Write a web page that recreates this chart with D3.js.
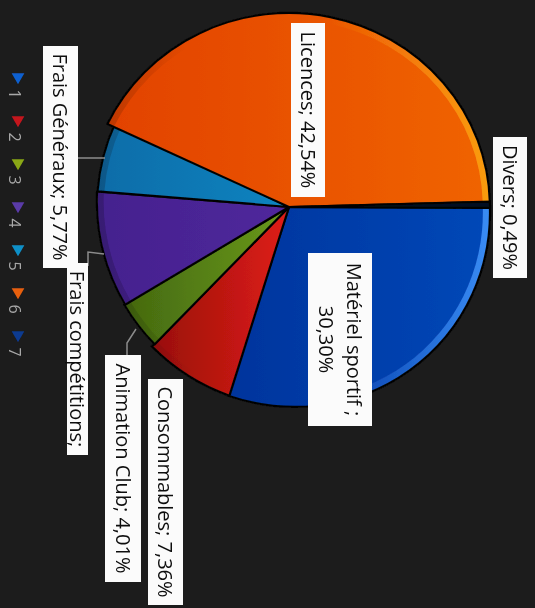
<!DOCTYPE html>
<html>
<head>
<meta charset="utf-8">
<script src="https://cdn.jsdelivr.net/npm/d3@7"></script>
<style>
  html, body { margin: 0; padding: 0; background: #1b1b1b; overflow: hidden; }
  svg { display: block; }
  text { font-family: "Open Sans", sans-serif; }
</style>
</head>
<body>
<div id="chart"></div>
<script>
// values, clockwise from the horizontal edge of the (rotated) pie
const categories = ["Matériel sportif", "Consommables", "Animation Club", "Frais compétitions", "Frais Généraux", "Licences", "Divers"];
const values = [30.30, 7.36, 4.01, 9.53, 5.77, 42.54, 0.49];
const legendKeys = ["1", "2", "3", "4", "5", "6", "7"];
const labelLines = [
    ["Matériel sportif ;", "30,30%"],
    ["Consommables; 7,36%"],
    ["Animation Club; 4,01%"],
    ["Frais compétitions;"],
    ["Frais Généraux; 5,77%"],
    ["Licences; 42,54%"],
    ["Divers; 0,49%"]
];

const width = 535;
const height = 608;
const cx = 289;
const cy = 207;
const radius = 197;

// [dark side, bright side, rim]
const colors = [
    ["#04349c", "#0648b8", "#3a8cf4"],
    ["#980f0c", "#e01e16", "#f8382a"],
    ["#44680f", "#6a9a1c", "#7cb024"],
    ["#44218e", "#50289c", "#5a30a8"],
    ["#0a6ca8", "#0c84c0", "#1090cc"],
    ["#e24200", "#f06404", "#fa9c10"],
    ["#040c20", "#040c20", "#040c20"]
];
const legendColors = ["#1060d0", "#c4141c", "#8aa816", "#5a3aa8", "#1090c8", "#e86010", "#0a3a90"];

// the photographed pie is not quite round: x stretch, y stretch, skew of each slice around the centre
const sliceWarp = [
    [1.02, 1.015, 0.03],
    [1, 1.015, 0.03],
    [0.98, 1, 0.03],
    [0.975, 1, 0.03],
    [0.975, 1, 0],
    [1.02, 0.985, 0],
    [1.02, 1, 0]
];

// label boxes, x/y/w/h
const labelBoxes = [
    [308, 253, 64, 173],
    [148, 379, 35, 226],
    [105, 355, 36, 227],
    [67, 263, 21, 192],
    [43, 46, 35, 222],
    [291, 23, 34, 174],
    [493, 137, 34, 141]
];
const leaders = [
    [[127, 355], [127, 343], [136, 329]],
    [[88, 266], [88, 252], [104, 254]],
    [[78, 158], [105, 158]]
];

const svg = d3.select("#chart")
    .append("svg")
    .attr("width", width)
    .attr("height", height)
    .attr("viewBox", `0 0 ${width} ${height}`);

const defs = svg.append("defs");

defs.append("filter")
    .attr("id", "soft")
    .append("feGaussianBlur")
    .attr("stdDeviation", 0.5);

colors.forEach((c, i) => {
    const g = defs.append("linearGradient")
        .attr("id", `slice-${i}`)
        .attr("x1", "0%").attr("x2", "100%")
        .attr("y1", "0%").attr("y2", "0%");
    g.append("stop").attr("offset", "0%").attr("stop-color", c[0]);
    g.append("stop").attr("offset", "100%").attr("stop-color", c[1]);

    const r = defs.append("linearGradient")
        .attr("id", `rim-${i}`)
        .attr("gradientUnits", "userSpaceOnUse")
        .attr("x1", -radius).attr("y1", 0)
        .attr("x2", radius).attr("y2", 0);
    r.append("stop").attr("offset", "0%").attr("stop-color", "#000").attr("stop-opacity", 0.2);
    r.append("stop").attr("offset", "25%").attr("stop-color", "#000").attr("stop-opacity", 0);
    r.append("stop").attr("offset", "60%").attr("stop-color", c[2]).attr("stop-opacity", 0);
    r.append("stop").attr("offset", "100%").attr("stop-color", c[2]).attr("stop-opacity", 1);
});

const chart = svg.append("g").attr("filter", "url(#soft)");

chart.append("rect")
    .attr("width", width)
    .attr("height", height)
    .attr("fill", "#1b1b1b");

// pie
const pie = d3.pie()
    .sort(null)
    .startAngle(Math.PI / 2 + 0.004)
    .endAngle(Math.PI * 2.5 + 0.004);

const arcs = pie(values);
const arc = d3.arc().innerRadius(0).outerRadius(radius);
const rimArc = d3.arc().innerRadius(radius - 7).outerRadius(radius);

const pieG = chart.append("g")
    .attr("transform", `translate(${cx},${cy})`);

const sliceG = pieG.selectAll("g")
    .data(arcs)
    .join("g")
    .attr("transform", (d, i) => `matrix(${sliceWarp[i][0]},0,${sliceWarp[i][2]},${sliceWarp[i][1]},0,0)`);

sliceG.append("path")
    .attr("d", arc)
    .attr("fill", (d, i) => `url(#slice-${i})`);

sliceG.append("path")
    .attr("d", rimArc)
    .attr("fill", (d, i) => `url(#rim-${i})`);

// dark separators between the slices
sliceG.append("path")
    .attr("d", arc)
    .attr("fill", "none")
    .attr("stroke", "#060606")
    .attr("stroke-width", 2.2);

// leader lines
chart.selectAll("path.leader")
    .data(leaders)
    .join("path")
    .attr("class", "leader")
    .attr("d", d3.line())
    .attr("fill", "none")
    .attr("stroke", "#8c8c8c")
    .attr("stroke-width", 1.5);

// data labels, rotated a quarter turn like the whole picture
const labels = chart.selectAll("g.label")
    .data(labelLines)
    .join("g")
    .attr("class", "label");

labels.append("rect")
    .attr("x", (d, i) => labelBoxes[i][0])
    .attr("y", (d, i) => labelBoxes[i][1])
    .attr("width", (d, i) => labelBoxes[i][2])
    .attr("height", (d, i) => labelBoxes[i][3])
    .attr("fill", "#fbfbfb");

labels.each(function (lines, i) {
    const [x, y, w, h] = labelBoxes[i];
    const lineH = 28;
    lines.forEach((t, j) => {
        const off = (j - (lines.length - 1) / 2) * lineH;
        d3.select(this).append("text")
            .attr("transform", `translate(${x + w / 2 - off},${y + h / 2}) rotate(90)`)
            .attr("text-anchor", "middle")
            .attr("dy", "0.36em")
            .attr("font-size", 20)
            .attr("fill", "#0e0e0e")
            .text(t);
    });
});

// legend
const legendY = d3.scalePoint()
    .domain(legendKeys)
    .range([77, 335]);

const legend = chart.append("g");

legend.selectAll("path")
    .data(legendKeys)
    .join("path")
    .attr("d", d3.symbol(d3.symbolTriangle, 70))
    .attr("transform", d => `translate(18,${legendY(d)}) rotate(180)`)
    .attr("fill", (d, i) => legendColors[i]);

legend.selectAll("text")
    .data(legendKeys)
    .join("text")
    .attr("transform", d => `translate(15,${legendY(d) + 17}) rotate(90)`)
    .attr("text-anchor", "middle")
    .attr("dy", "0.36em")
    .attr("font-size", 16)
    .attr("fill", "#a8a8a8")
    .text(d => d);
</script>
</body>
</html>
